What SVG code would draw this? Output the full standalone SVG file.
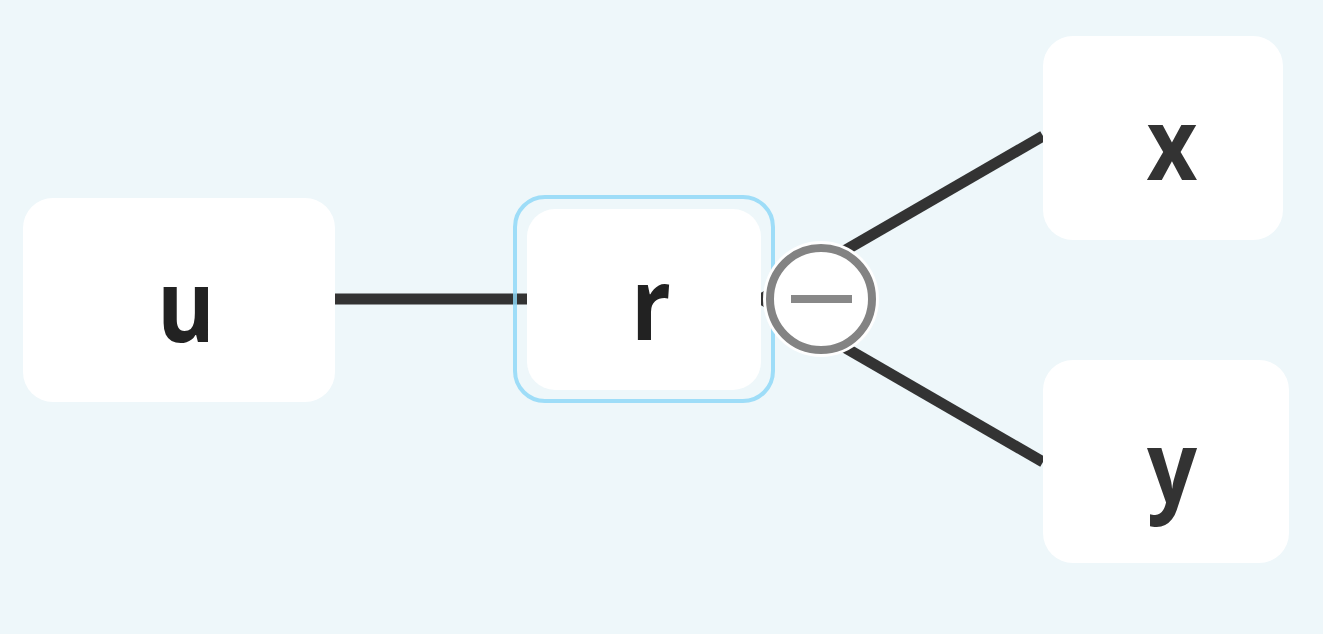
<svg xmlns="http://www.w3.org/2000/svg" width="1323" height="634" viewBox="0 0 1323 634">
<style>
.node{fill:#ffffff}
.lbl{font-family:"Open Sans","Noto Sans","Liberation Sans",sans-serif;font-weight:700;font-size:100px;text-anchor:middle}
.edge{stroke:#333333;stroke-width:11;fill:none}
</style>
<rect x="0" y="0" width="1323" height="634" fill="#eef7fa"/>
<g id="connectors">
<line class="edge" x1="335" y1="299" x2="527" y2="299"/>
<line class="edge" x1="761" y1="299" x2="1043" y2="136"/>
<line class="edge" x1="761" y1="299" x2="1043" y2="462"/>
</g>
<g id="node-u">
<rect class="node" x="23" y="198" width="312" height="204" rx="30"/>
<text class="lbl" transform="translate(186,0) scale(0.88,1)" x="0" y="342" fill="#222222">u</text>
</g>
<g id="node-r">
<rect x="515" y="197" width="258" height="204" rx="30" fill="none" stroke="#8fd8f7" stroke-opacity="0.85" stroke-width="4"/>
<rect class="node" x="527" y="209" width="234" height="181" rx="28"/>
<text class="lbl" transform="translate(651,0) scale(0.88,1)" x="0" y="340" fill="#222222">r</text>
</g>
<g id="collapse">
<circle cx="821" cy="299" r="58" fill="#ffffff"/>
<circle cx="821" cy="299" r="51" fill="#ffffff" stroke="#838383" stroke-width="8"/>
<rect x="791" y="295" width="61" height="8" fill="#888888"/>
</g>
<g id="node-x">
<rect class="node" x="1043" y="36" width="240" height="204" rx="30"/>
<text class="lbl" transform="translate(1172,0) scale(0.88,1)" x="0" y="180" fill="#333333">x</text>
</g>
<g id="node-y">
<rect class="node" x="1043" y="360" width="246" height="203" rx="30"/>
<text class="lbl" transform="translate(1172,0) scale(0.88,1)" x="0" y="503" fill="#333333">y</text>
</g>
</svg>
